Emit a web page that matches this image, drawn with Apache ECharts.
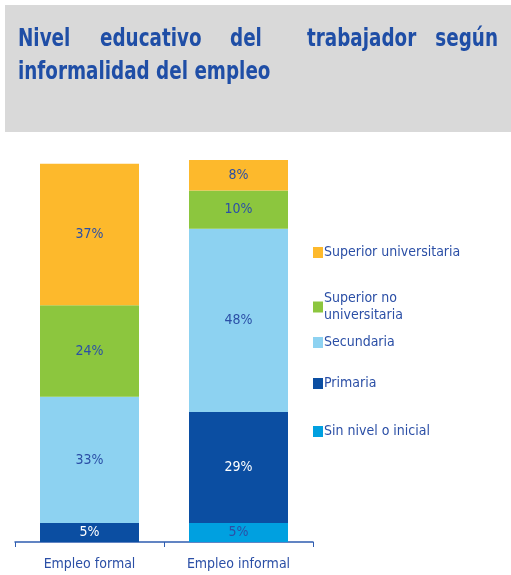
<!DOCTYPE html>
<html>
<head>
<meta charset="utf-8">
<script src="https://cdn.jsdelivr.net/npm/echarts@6/dist/echarts.min.js"></script>
<style>
  html, body { margin: 0; padding: 0; background: #fff; }
  #main { width: 511px; height: 575px; }
</style>
</head>
<body>
<div id="main"></div>
<script>
// datos del gráfico
const categorias = ['Empleo formal', 'Empleo informal'];
const sinNivel = [null, 5];
const primaria = [5, 29];
const secundaria = [33, 48];
const superiorNoUniv = [24, 10];
const superiorUniv = [37, 8];

const FONT = '"Liberation Sans Narrow", "Arial Narrow", "DejaVu Sans Condensed", sans-serif';
const AZUL = '#2b4fa6';
const AZUL_TITULO = '#1f4ea6';

const myChart = echarts.init(document.getElementById('main'));

function serie(name, data, color, labelColor) {
  return {
    name: name,
    type: 'bar',
    stack: 'total',
    data: data,
    barWidth: 99,
    itemStyle: { color: color },
    label: {
      show: true,
      position: 'inside',
      formatter: p => p.value == null ? '' : p.value + '%',
      color: labelColor,
      fontFamily: FONT,
      fontSize: 14
    }
  };
}

// palabra del título (primera línea justificada)
function palabra(text, x, y, align) {
  return {
    type: 'text', x: x, y: y, scaleX: 0.85,
    style: { text: text, font: 'bold 24px ' + FONT, fill: AZUL_TITULO, align: align || 'left' }
  };
}

const nombres = ['Superior universitaria', 'Superior no universitaria', 'Secundaria', 'Primaria', 'Sin nivel o inicial'];
const legendTops = [244, 290, 334, 375, 423];
const etiquetas = {
  'Superior no universitaria': 'Superior no\nuniversitaria'
};

myChart.setOption({
  animation: false,
  graphic: [
    { type: 'rect', shape: { x: 5, y: 5, width: 506, height: 127 }, style: { fill: '#d9d9d9' } },
    palabra('Nivel', 18, 28),
    palabra('educativo', 100, 28),
    palabra('del', 230, 28),
    palabra('trabajador', 307, 28),
    palabra('según', 498, 28, 'right'),
    palabra('informalidad del empleo', 18, 61)
  ],
  legend: nombres.map((n, i) => ({
    data: [n],
    left: 313,
    top: legendTops[i],
    padding: 0,
    orient: 'vertical',
    icon: 'rect',
    itemWidth: 10,
    itemHeight: 11,
    itemGap: 2,
    selectedMode: false,
    formatter: name => etiquetas[name] || name,
    textStyle: { color: AZUL, fontFamily: FONT, fontSize: 14, lineHeight: 17, padding: [0, 0, 0, -4] }
  })),
  grid: { left: 15, right: 198, top: 160, bottom: 33 },
  xAxis: {
    type: 'category',
    data: categorias,
    axisLine: { lineStyle: { color: '#2e5cb0', width: 1.5 } },
    axisTick: { show: true, length: 5, lineStyle: { color: '#2e5cb0' } },
    axisLabel: { color: AZUL, fontFamily: FONT, fontSize: 14, margin: 15 }
  },
  yAxis: {
    type: 'value',
    min: 0,
    max: 100,
    show: false,
    splitLine: { show: false }
  },
  series: [
    serie('Sin nivel o inicial', sinNivel, '#00a0e0', AZUL),
    serie('Primaria', primaria, '#0b4ea2', '#ffffff'),
    serie('Secundaria', secundaria, '#8dd2f1', AZUL),
    serie('Superior no universitaria', superiorNoUniv, '#8cc63e', AZUL),
    serie('Superior universitaria', superiorUniv, '#fdb92c', AZUL)
  ]
});
</script>
</body>
</html>
